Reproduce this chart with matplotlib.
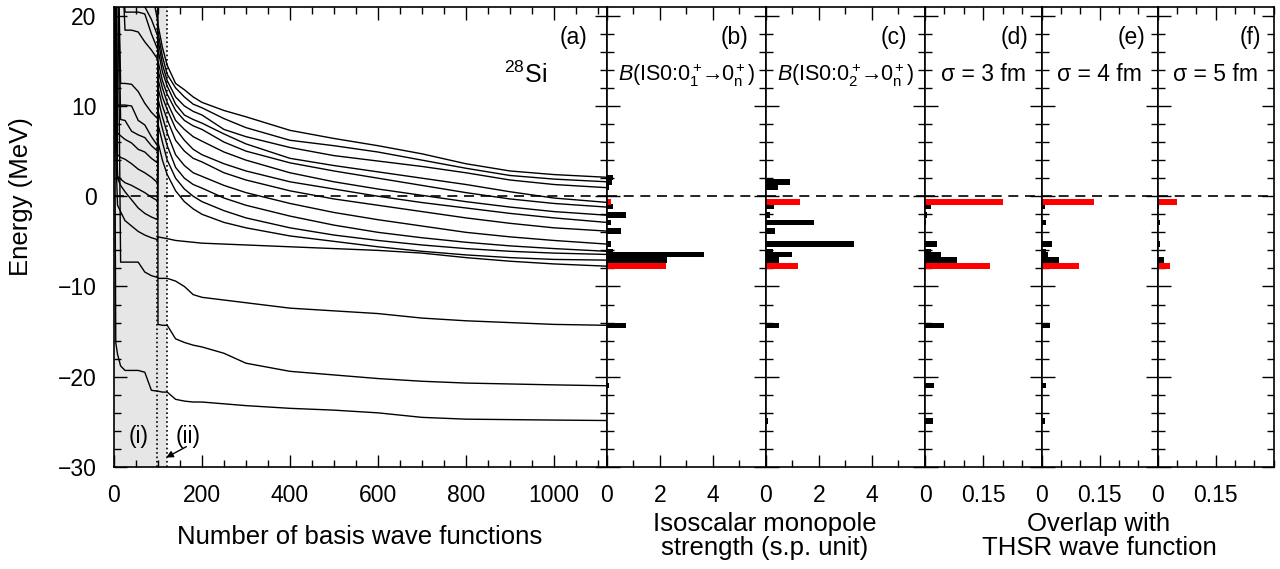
import numpy as np
import matplotlib.pyplot as plt
from matplotlib.ticker import MultipleLocator

plt.rcParams['font.family'] = ['Liberation Sans', 'DejaVu Sans']
plt.rcParams['mathtext.fontset'] = 'custom'
plt.rcParams['mathtext.rm'] = 'Liberation Sans'
plt.rcParams['mathtext.it'] = 'Liberation Sans:italic'
plt.rcParams['axes.linewidth'] = 1.2

# number of basis wave functions (x of panel a)
n_basis = [0, 4, 8, 15, 25, 40, 55, 70, 85, 99, 100, 110, 121, 140, 160, 180, 200,
           250, 300, 400, 500, 600, 700, 800, 900, 1000, 1120]

# energies of the 16 lowest 0+ eigenvalues (MeV), 30 = above the frame
e01 = [30, 30, 30, 30, 30, 30, 30, 30, 23.0, 19.5, 19.0, 16.5, 14.5, 12.5, 11.8, 11.0, 10.4, 9.5, 8.8, 7.3, 6.4, 5.6, 4.7, 3.6, 2.8, 2.4, 2.1]
e02 = [30, 30, 30, 30, 30, 30, 30, 21.0, 19.6, 17.8, 18.2, 15.5, 13.5, 12.0, 11.0, 10.2, 9.8, 8.6, 7.6, 6.2, 5.6, 4.9, 4.0, 3.1, 2.3, 1.9, 1.6]
e03 = [30, 30, 30, 30, 20.4, 20.4, 20.4, 20.2, 18.0, 16.3, 17.4, 14.6, 12.8, 11.0, 10.0, 9.4, 9.0, 7.4, 6.6, 5.4, 4.5, 3.9, 3.3, 2.6, 1.8, 1.3, 0.95]
e04 = [30, 30, 30, 30, 18.4, 18.4, 18.2, 17.1, 16.2, 15.2, 16.3, 13.8, 12.2, 10.2, 9.0, 8.5, 8.1, 6.9, 5.8, 4.2, 3.4, 2.7, 2.0, 1.3, 0.5, -0.2, -0.68]
e05 = [30, 30, 30, 12.5, 12.5, 12.4, 11.6, 10.3, 9.3, 8.6, 15.0, 12.8, 11.3, 9.5, 8.4, 7.8, 7.4, 6.0, 5.0, 3.7, 2.8, 2.0, 1.2, 0.4, -0.3, -0.8, -1.2]
e06 = [30, 30, 10.1, 10.1, 10.1, 10.0, 8.4, 7.9, 6.6, 5.6, 14.0, 12.0, 10.4, 8.4, 7.4, 6.6, 6.1, 4.9, 4.0, 2.6, 1.6, 0.8, 0.1, -0.6, -1.2, -1.7, -2.1]
e07 = [30, 30, 30, 8.5, 8.4, 7.2, 6.8, 6.5, 5.6, 5.0, 13.0, 11.0, 9.6, 7.5, 6.2, 5.2, 4.6, 3.6, 2.8, 1.6, 0.8, 0.0, -0.7, -1.3, -1.9, -2.4, -2.9]
e08 = [30, 30, 7.0, 6.7, 6.3, 5.9, 5.2, 4.9, 4.2, 3.7, 12.0, 10.0, 8.5, 6.2, 5.0, 4.2, 3.8, 2.6, 1.8, 0.6, -0.3, -1.0, -1.7, -2.4, -3.0, -3.5, -3.86]
e09 = [30, 24, 4.6, 4.3, 4.1, 3.6, 3.0, 2.6, 2.1, 1.5, 10.8, 8.8, 7.0, 4.6, 3.4, 2.6, 2.2, 1.2, 0.4, -0.8, -1.8, -2.6, -3.3, -4.0, -4.5, -4.9, -5.3]
e10 = [30, 18, 2.2, 1.9, 1.5, 1.2, 0.8, 0.4, -0.1, -0.5, 9.5, 7.5, 5.6, 3.2, 2.0, 1.3, 0.9, -0.2, -1.0, -2.2, -3.2, -4.0, -4.6, -5.1, -5.5, -5.8, -6.1]
e11 = [30, 10, 2.0, 1.2, 0.5, -0.4, -1.3, -1.9, -2.3, -2.6, 8.0, 6.0, 4.0, 2.0, 0.8, 0.0, -0.6, -1.6, -2.4, -3.5, -4.3, -4.9, -5.4, -5.8, -6.1, -6.3, -6.45]
e12 = [30, 30, 30, 30, 30, 30, 30, 30, 30, 30, 6.0, 4.0, 2.4, 0.6, -0.6, -1.4, -2.0, -2.9, -3.5, -4.4, -5.0, -5.6, -6.1, -6.5, -6.8, -7.0, -7.08]
e13 = [30, 5, -1.0, -1.7, -2.7, -3.3, -3.9, -4.3, -4.6, -4.8, -4.5, -4.6, -4.7, -4.9, -5.0, -5.1, -5.2, -5.3, -5.4, -5.6, -5.8, -6.0, -6.3, -6.8, -7.2, -7.5, -7.75]
e14 = [30, 30, 30, -7.3, -7.3, -7.3, -7.3, -8.4, -8.8, -9.0, -9.1, -9.1, -9.1, -9.4, -10.0, -10.9, -11.2, -11.5, -11.8, -12.4, -12.7, -13.0, -13.5, -13.8, -14.0, -14.2, -14.3]
e15 = [30, 30, 30, 30, 30, 30, 30, 30, 30, 30, -14.2, -14.3, -14.3, -15.8, -16.2, -16.5, -16.7, -17.4, -18.5, -19.4, -19.8, -20.2, -20.5, -20.7, -20.8, -20.9, -21.0]
e16 = [30, -16.2, -17.5, -18.8, -19.3, -19.3, -19.3, -19.5, -21.5, -21.6, -21.6, -21.7, -21.7, -22.5, -22.7, -22.8, -22.8, -23.0, -23.2, -23.5, -23.7, -24.0, -24.5, -24.7, -24.75, -24.8, -24.85]
curves = [e01, e02, e03, e04, e05, e06, e07, e08, e09, e10, e11, e12, e13, e14, e15, e16]

# final levels (N = 1120) and strengths / overlaps
level_energy = [2.1, 1.6, 0.95, -0.68, -1.15, -2.1, -2.9, -3.86, -5.3, -6.1, -6.45, -7.08, -7.75, -14.3, -21.0, -24.9]
is_red = [0, 0, 0, 1, 0, 0, 0, 0, 0, 0, 0, 0, 1, 0, 0, 0]
bis0_from1 = [0.23, 0.2, 0.08, 0.18, 0.25, 0.73, 0.16, 0.53, 0.15, 0.23, 3.66, 2.26, 2.22, 0.73, 0.09, 0.0]
bis0_from2 = [0.0, 0.92, 0.45, 1.29, 0.3, 0.15, 1.82, 0.36, 3.32, 0.26, 0.99, 0.5, 1.21, 0.49, 0.0, 0.1]
ov_3fm = [0, 0, 0, 0.201, 0.0165, 0.004, 0.0035, 0, 0.030, 0.0165, 0.041, 0.083, 0.168, 0.049, 0.024, 0.021]
ov_4fm = [0, 0, 0, 0.136, 0.009, 0, 0.012, 0, 0.027, 0.012, 0.017, 0.045, 0.097, 0.021, 0.011, 0.008]
ov_5fm = [0, 0, 0, 0.049, 0.004, 0, 0.005, 0, 0.007, 0, 0, 0.016, 0.033, 0, 0, 0]

fig = plt.figure(figsize=(12.8, 5.69), dpi=100)
gs = fig.add_gridspec(1, 6, left=114 / 1280, right=1273.7 / 1280,
                      bottom=1 - 467 / 569, top=1 - 6.7 / 569, wspace=0,
                      width_ratios=[492.7, 159, 159.3, 116.7, 116, 116])
axes = [fig.add_subplot(gs[0, i]) for i in range(6)]

for ax in axes:
    ax.set_ylim(-30, 21)
    ax.yaxis.set_major_locator(MultipleLocator(10))
    ax.yaxis.set_minor_locator(MultipleLocator(2))
    ax.tick_params(which='both', direction='in', top=True, right=True,
                   labelsize=16.5, pad=12.5, width=1.0)
    ax.tick_params(which='major', length=9)
    ax.tick_params(which='minor', length=4.7)
    ax.axhline(0, color='black', lw=1.2, ls=(0, (6, 4)), zorder=3)

# panel (a)
ax = axes[0]
ax.axvspan(0, 121, color='#e6e6e6', lw=0, zorder=0)
for e in curves:
    ax.plot(n_basis, e, color='black', lw=1.0, zorder=2)
ax.axvline(97, color='black', ls=':', lw=1.2, zorder=3)
ax.axvline(121, color='black', ls=':', lw=1.2, zorder=3)
ax.set_xlim(0, 1120)
ax.xaxis.set_major_locator(MultipleLocator(200))
ax.xaxis.set_minor_locator(MultipleLocator(50))
ax.text(0.96, 0.934, '(a)', transform=ax.transAxes, ha='right', va='center', fontsize=16.5)
ax.text(0.879, 0.852, r'$^{28}$Si', transform=ax.transAxes, ha='right', va='center', fontsize=18)
ax.text(55, -26.6, '(i)', ha='center', va='center', fontsize=16.5)
ax.text(169, -26.6, '(ii)', ha='center', va='center', fontsize=16.5)
ax.annotate('', xy=(113, -29.1), xytext=(170, -27.6),
            arrowprops=dict(arrowstyle='-|>', color='black', lw=1.0, mutation_scale=10))

panel_vals = [bis0_from1, bis0_from2, ov_3fm, ov_4fm, ov_5fm]
panel_tags = ['(b)', '(c)', '(d)', '(e)', '(f)']
panel_text = [r'$B$(IS0:0$^+_1$$\!\!\rightarrow\!\!$0$^+_\mathrm{n}$)',
              r'$B$(IS0:0$^+_2$$\!\!\rightarrow\!\!$0$^+_\mathrm{n}$)',
              'σ = 3 fm', 'σ = 4 fm', 'σ = 5 fm']
panel_fs = [15.5, 15.5, 16.5, 16.5, 16.5]
red_e = [e for e, r in zip(level_energy, is_red) if r]
blk_e = [e for e, r in zip(level_energy, is_red) if not r]
for ax, vals, tag, txt, fs in zip(axes[1:], panel_vals, panel_tags, panel_text, panel_fs):
    red_v = [v for v, r in zip(vals, is_red) if r]
    blk_v = [v for v, r in zip(vals, is_red) if not r]
    ax.barh(blk_e, blk_v, height=0.6, color='black', lw=0, zorder=2)
    ax.barh(red_e, red_v, height=0.65, color='#ff0000', lw=0, zorder=2)
    ax.tick_params(labelleft=False)
    ax.text(0.89, 0.934, tag, transform=ax.transAxes, ha='right', va='center', fontsize=16.5)
    ax.text(0.5, 0.852, txt, transform=ax.transAxes, ha='center', va='center', fontsize=fs)

for ax in axes[1:3]:
    ax.set_xlim(0, 6)
    ax.set_xticks([0, 2, 4])
    ax.xaxis.set_minor_locator(MultipleLocator(1))
for ax in axes[3:]:
    ax.set_xlim(0, 0.3)
    ax.set_xticks([0, 0.15])
    ax.set_xticklabels(['0', '0.15'])
    ax.xaxis.set_minor_locator(MultipleLocator(0.05))

fig.text(21 / 1280, 1 - 197 / 569, 'Energy (MeV)', rotation=90,
         ha='center', va='center', fontsize=18.5)
fig.text(360 / 1280, 1 - 537 / 569, 'Number of basis wave functions',
         ha='center', va='center', fontsize=18.5)
fig.text(765 / 1280, 1 - 536 / 569, 'Isoscalar monopole\nstrength (s.p. unit)',
         ha='center', va='center', fontsize=18.5, linespacing=0.95)
fig.text(1099 / 1280, 1 - 536 / 569, 'Overlap with\nTHSR wave function',
         ha='center', va='center', fontsize=18.5, linespacing=0.95)

fig.savefig('out.png', dpi=100)
